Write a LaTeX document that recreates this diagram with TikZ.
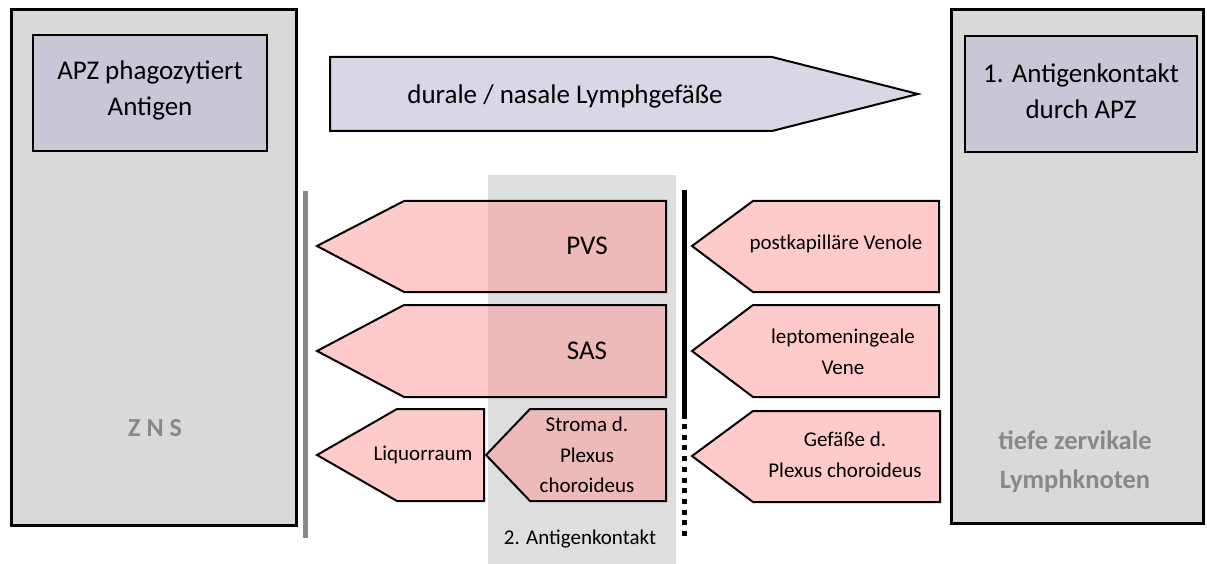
\documentclass[tikz,border=0pt]{standalone}
\usepackage{fontspec}
\setmainfont{Carlito}
\definecolor{boxgray}{RGB}{217,217,217}
\definecolor{colgray}{RGB}{222,222,222}
\definecolor{apzblue}{RGB}{199,199,213}
\definecolor{lymphblue}{RGB}{215,215,229}
\definecolor{pathred}{RGB}{255,149,149}
\definecolor{textgray}{RGB}{136,136,136}

\tikzset{
  outerbox/.style={draw,line width=3pt,fill=boxgray},
  innerbox/.style={draw,line width=2pt,fill=apzblue},
  pathway/.style={draw,line width=2pt,line join=miter,fill=pathred,fill opacity=0.5,draw opacity=1},
  bigtxt/.style={font=\fontsize{27}{36}\selectfont,align=center,inner sep=0pt},
  smalltxt/.style={font=\fontsize{21}{30.5}\selectfont,align=center,inner sep=0pt},
  graytxt/.style={font=\fontsize{26.5}{39}\selectfont\bfseries,text=textgray,align=center,inner sep=0pt}
}

\begin{document}
\begin{tikzpicture}[x=1pt,y=-1pt]
    \useasboundingbox (0,0) rectangle (1207,564);
    % column of the second contact
    \path[fill=colgray] (488,175) rectangle (676,564);
    \node[smalltxt] (contact2) at (580,539) {2. Antigenkontakt};

    % ZNS
    \path[outerbox] (11,10) rectangle (296,525);
    \path[innerbox] (33,35) rectangle (267,151);
    \node[bigtxt] (apz) at (150,90) {APZ phagozytiert\\Antigen};
    \node[font=\fontsize{26}{30}\selectfont\bfseries,text=textgray,inner sep=0pt] (zns) at (155,428) {Z N S};

    % lymph nodes
    \path[outerbox] (951,10) rectangle (1203,523);
    \path[innerbox] (965,36) rectangle (1197,152);
    \node[bigtxt] (contact1) at (1081,91) {1. Antigenkontakt\\durch APZ};
    \node[graytxt] (lymph) at (1075,462) {tiefe zervikale\\Lymphknoten};

    % durale / nasale Lymphgefaesse
    \path[draw,line width=2pt,fill=lymphblue] (330,57) -- (772,57) -- (918,94) -- (772,131) -- (330,131) -- cycle;
    \node[bigtxt] (dural) at (565,96) {durale / nasale Lymphgefäße};

    % borders
    \path[draw,line width=5pt,color=textgray] (305,191) -- (305,538);
    \path[draw,line width=5pt] (684,190) -- (684,419);
    \path[draw,line width=5pt,dash pattern=on 5pt off 5.7pt] (684,424) -- (684,538);

    % PVS
    \path[pathway] (666,201) -- (404,201) -- (317,246) -- (404,292) -- (666,292) -- cycle;
    \node[font=\fontsize{27}{30}\selectfont,inner sep=0pt] (pvs) at (587,246) {PVS};
    % SAS
    \path[pathway] (666,305) -- (404,305) -- (317,351) -- (404,397) -- (666,397) -- cycle;
    \node[font=\fontsize{27}{30}\selectfont,inner sep=0pt] (sas) at (587,351) {SAS};
    % Liquorraum
    \path[pathway] (484,409) -- (397,409) -- (317,455) -- (397,501) -- (484,501) -- cycle;
    \node[smalltxt] (liquor) at (423,455) {Liquorraum};
    % Stroma
    \path[pathway] (666,409) -- (530,409) -- (486,455) -- (530,501) -- (666,501) -- cycle;
    \node[smalltxt] (stroma) at (587,455) {Stroma d.\\Plexus\\choroideus};

    % postkapillaere Venole
    \path[pathway] (939,201) -- (753,201) -- (692,246) -- (753,292) -- (939,292) -- cycle;
    \node[smalltxt] (venole) at (836,244) {postkapilläre Venole};
    % leptomeningeale Vene
    \path[pathway] (939,305) -- (753,305) -- (692,351) -- (753,397) -- (939,397) -- cycle;
    \node[smalltxt] (vene) at (843,352) {leptomeningeale\\Vene};
    % Gefaesse d. Plexus
    \path[pathway] (940,411) -- (753,411) -- (692,456) -- (753,502) -- (940,502) -- cycle;
    \node[smalltxt] (gefaesse) at (845,455) {Gefäße d.\\Plexus choroideus};
\end{tikzpicture}
\end{document}
